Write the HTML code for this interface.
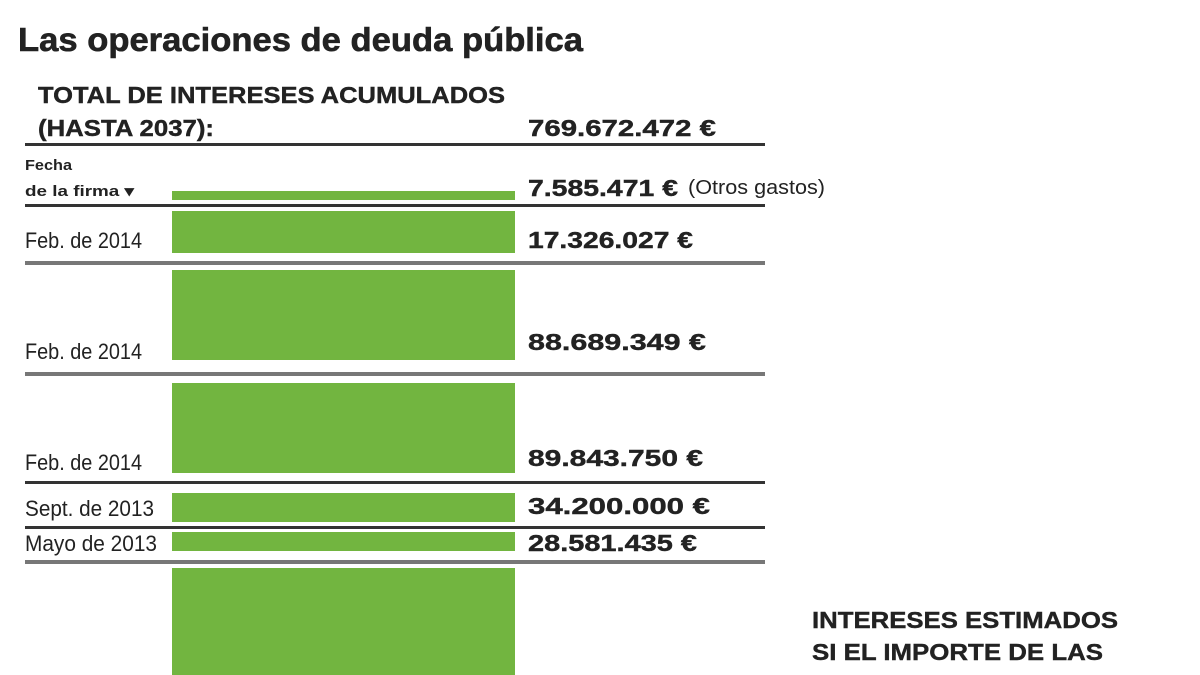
<!DOCTYPE html>
<html><head><meta charset="utf-8"><style>
html,body{margin:0;padding:0;background:#fff;width:1200px;height:675px;overflow:hidden}
svg{display:block}
text{font-family:"Liberation Sans",sans-serif;fill:#222}
.b{font-weight:bold}
</style></head><body>
<svg width="1200" height="675" viewBox="0 0 1200 675">
<text x="18" y="51" class="b" font-size="33" textLength="565" lengthAdjust="spacingAndGlyphs" stroke="#222" stroke-width="0.6">Las operaciones de deuda pública</text>
<text x="38" y="103" class="b" font-size="23" textLength="467" lengthAdjust="spacingAndGlyphs" stroke="#222" stroke-width="0.4">TOTAL DE INTERESES ACUMULADOS</text>
<text x="38" y="136" class="b" font-size="23" textLength="176" lengthAdjust="spacingAndGlyphs" stroke="#222" stroke-width="0.4">(HASTA 2037):</text>
<text x="528" y="136" class="b" font-size="23" textLength="188" lengthAdjust="spacingAndGlyphs" stroke="#222" stroke-width="0.4">769.672.472 €</text>
<rect x="25" y="143" width="740" height="3" fill="#333"/>

<text x="25" y="170" class="b" font-size="15" textLength="47" lengthAdjust="spacingAndGlyphs">Fecha</text>
<text x="25" y="196" class="b" font-size="15" textLength="109" lengthAdjust="spacingAndGlyphs">de la firma ▾</text>
<rect x="172" y="191" width="343" height="9" fill="#72b540"/>
<text x="528" y="196" class="b" font-size="23" textLength="150" lengthAdjust="spacingAndGlyphs" stroke="#222" stroke-width="0.4">7.585.471 €</text>
<text x="688" y="194" font-size="20" textLength="137" lengthAdjust="spacingAndGlyphs">(Otros gastos)</text>
<rect x="25" y="204" width="740" height="3" fill="#333"/>

<rect x="172" y="211" width="343" height="42" fill="#72b540"/>
<text x="25" y="248" font-size="22" textLength="117" lengthAdjust="spacingAndGlyphs">Feb. de 2014</text>
<text x="528" y="248" class="b" font-size="23" textLength="165" lengthAdjust="spacingAndGlyphs" stroke="#222" stroke-width="0.4">17.326.027 €</text>
<rect x="25" y="261" width="740" height="4" fill="#777"/>

<rect x="172" y="270" width="343" height="90" fill="#72b540"/>
<text x="25" y="359" font-size="22" textLength="117" lengthAdjust="spacingAndGlyphs">Feb. de 2014</text>
<text x="528" y="350" class="b" font-size="23" textLength="178" lengthAdjust="spacingAndGlyphs" stroke="#222" stroke-width="0.4">88.689.349 €</text>
<rect x="25" y="372" width="740" height="4" fill="#777"/>

<rect x="172" y="383" width="343" height="90" fill="#72b540"/>
<text x="25" y="470" font-size="22" textLength="117" lengthAdjust="spacingAndGlyphs">Feb. de 2014</text>
<text x="528" y="466" class="b" font-size="23" textLength="175" lengthAdjust="spacingAndGlyphs" stroke="#222" stroke-width="0.4">89.843.750 €</text>
<rect x="25" y="481" width="740" height="3" fill="#333"/>

<rect x="172" y="493" width="343" height="29" fill="#72b540"/>
<text x="25" y="516" font-size="22" textLength="129" lengthAdjust="spacingAndGlyphs">Sept. de 2013</text>
<text x="528" y="514" class="b" font-size="23" textLength="182" lengthAdjust="spacingAndGlyphs" stroke="#222" stroke-width="0.4">34.200.000 €</text>
<rect x="25" y="526" width="740" height="3" fill="#333"/>

<rect x="172" y="532" width="343" height="19" fill="#72b540"/>
<text x="25" y="551" font-size="22" textLength="132" lengthAdjust="spacingAndGlyphs">Mayo de 2013</text>
<text x="528" y="551" class="b" font-size="23" textLength="169" lengthAdjust="spacingAndGlyphs" stroke="#222" stroke-width="0.4">28.581.435 €</text>
<rect x="25" y="560" width="740" height="4" fill="#777"/>

<rect x="172" y="568" width="343" height="107" fill="#72b540"/>
<text x="812" y="628" class="b" font-size="23" textLength="306" lengthAdjust="spacingAndGlyphs" stroke="#222" stroke-width="0.4">INTERESES ESTIMADOS</text>
<text x="812" y="660" class="b" font-size="23" textLength="291" lengthAdjust="spacingAndGlyphs" stroke="#222" stroke-width="0.4">SI EL IMPORTE DE LAS</text>
</svg>
</body></html>
